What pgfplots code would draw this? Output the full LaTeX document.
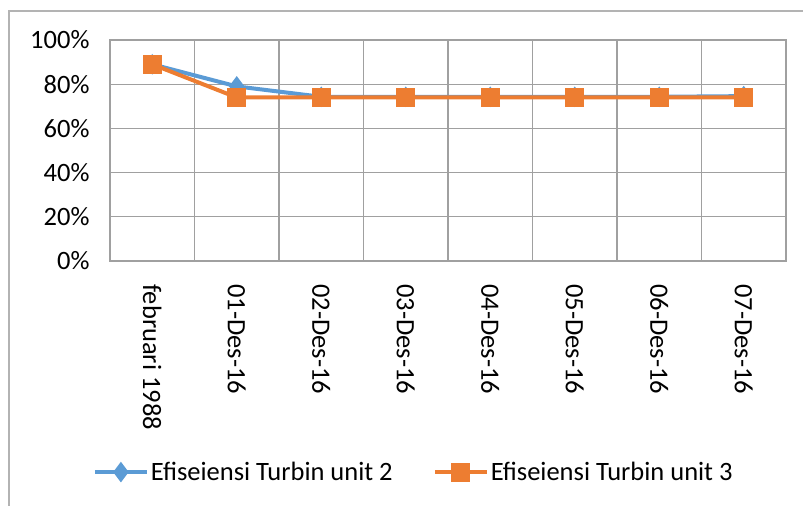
\documentclass[border=0pt]{standalone}
\usepackage{fontspec}
\setmainfont{Carlito}
\usepackage{pgfplots}
\pgfplotsset{compat=1.18}
\definecolor{cblue}{HTML}{5B9BD5}
\definecolor{corange}{HTML}{ED7D31}
\definecolor{cgrid}{HTML}{A0A0A0}
\newcommand{\mysize}{\fontsize{26.5bp}{30bp}\selectfont}
\begin{document}
\begin{tikzpicture}
\path[use as bounding box] (0,0) rectangle (803bp,506bp);
\draw[cgrid!80, line width=1.2bp] (9bp,0) -- (9bp,495bp) -- (803bp,495bp);
\begin{axis}[
  at={(110bp,245bp)}, anchor=south west,
  scale only axis, width=676bp, height=221bp,
  xmin=-0.5, xmax=7.5, ymin=0, ymax=100,
  xtick={0,...,7},
  xticklabels={februari 1988,01-Des-16,02-Des-16,03-Des-16,04-Des-16,05-Des-16,06-Des-16,07-Des-16},
  minor xtick={-0.5,0.5,...,7.5},
  ytick={0,20,...,100},
  yticklabels={0\%,20\%,40\%,60\%,80\%,100\%},
  xminorgrids=true, ymajorgrids=true,
  grid style={cgrid, line width=1.2bp},
  minor grid style={cgrid, line width=1.2bp},
  major tick length=0pt, minor tick length=0pt,
  axis line style={cgrid, line width=1.2bp},
  tick label style={font=\mysize, text=black},
  /pgf/number format/assume math mode=true,
  yticklabel style={anchor=east, xshift=-17bp},
  xticklabel style={rotate=-90, anchor=west, xshift=20bp, yshift=0bp},
  legend style={font=\mysize, draw=none, fill=none, at={(-0.03,-0.955)}, anchor=west,
    /tikz/every even column/.append style={column sep=38bp}},
  legend columns=2,
  legend image code/.code={\draw[#1, mark repeat=2, mark phase=2] plot coordinates {(0bp,0bp) (26bp,0bp) (52bp,0bp)};},
  clip=false,
]
\addplot[cblue, line width=4bp, mark=diamond*, mark size=7bp, mark options={solid}]
  coordinates {(0,89) (1,79) (2,74.3) (3,74.3) (4,74.3) (5,74.3) (6,74.3) (7,74.6)};
\addlegendentry{Efiseiensi Turbin unit 2}
\addplot[corange, line width=4bp, mark=square*, mark size=7.5bp, mark options={solid}]
  coordinates {(0,89) (1,74) (2,74) (3,74) (4,74) (5,74) (6,74) (7,74)};
\addlegendentry{Efiseiensi Turbin unit 3}
\end{axis}
\end{tikzpicture}
\end{document}
